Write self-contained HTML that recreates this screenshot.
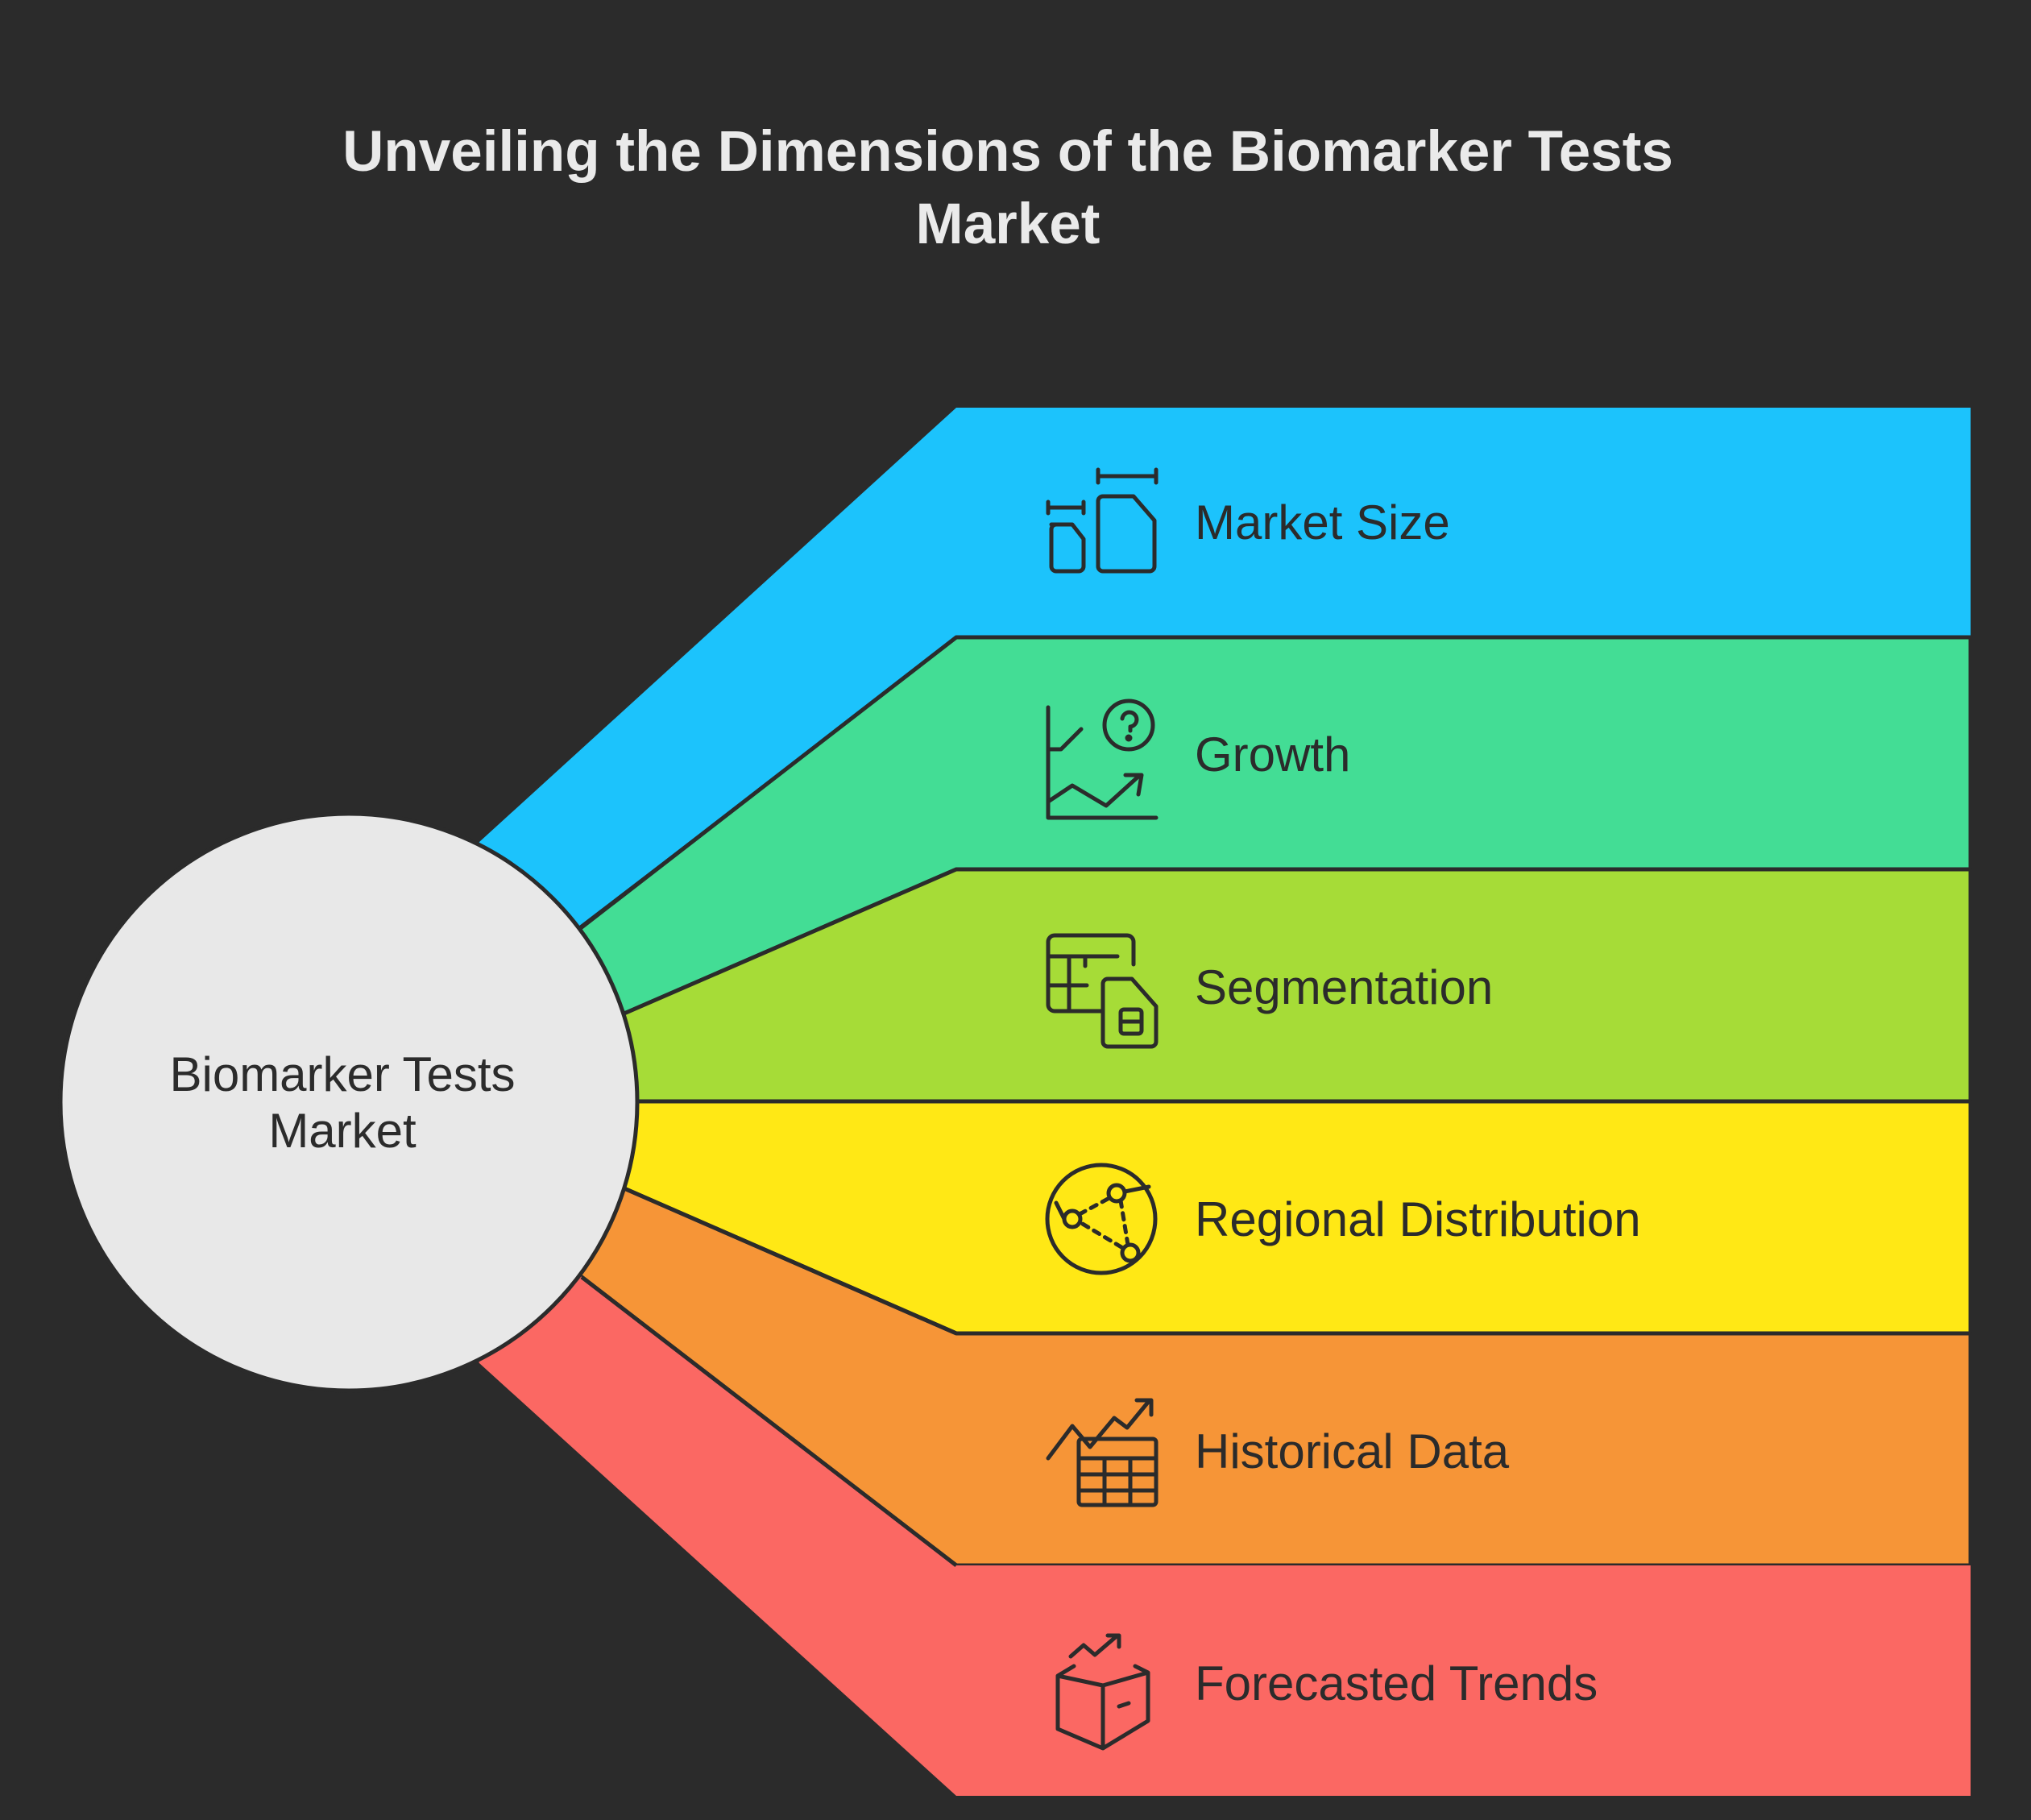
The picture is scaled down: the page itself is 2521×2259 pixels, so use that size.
<!DOCTYPE html>
<html><head><meta charset="utf-8"><style>
html,body{margin:0;padding:0;background:#2b2b2b;}
svg{display:block}
</style></head><body>
<svg width="2521" height="2259" viewBox="0 0 2521 2259" xmlns="http://www.w3.org/2000/svg">
<rect width="2521" height="2259" fill="#2b2b2b"/>
<text x="1251" y="212" font-family="Liberation Sans, sans-serif" font-weight="bold" font-size="71" fill="#eaeaea" text-anchor="middle">Unveiling the Dimensions of the Biomarker Tests</text>
<text x="1251" y="302" font-family="Liberation Sans, sans-serif" font-weight="bold" font-size="71" fill="#eaeaea" text-anchor="middle">Market</text>
<g stroke="#2b2b2b" stroke-width="5" stroke-linejoin="round">
<polygon points="433,1368 595,1045 1187,506 2446,506 2446,791 1187,791" fill="#1cc3fc" stroke="none"/>
<polygon points="433,1368 722,1151 1187,791 2446,791 2446,1079 1187,1079 777,1257" fill="#43dd95"/>
<polygon points="433,1368 777,1257 1187,1079 2446,1079 2446,1367 433,1367" fill="#a6dc37"/>
<polygon points="433,1367 2446,1367 2446,1655 1187,1655 777,1476" fill="#ffe815"/>
<polygon points="433,1368 777,1476 1187,1655 2446,1655 2446,1943 1187,1943 722,1585" fill="#f69537"/>
<polygon points="433,1368 722,1585 1187,1943 2446,1943 2446,2229 1187,2229 595,1692" fill="#fb6863" stroke="none"/>
<line x1="722" y1="1585" x2="1187" y2="1943"/>
<line x1="777" y1="1476" x2="1187" y2="1655"/>
</g>
<circle cx="433" cy="1368" r="358" fill="#e8e8e8" stroke="#2b2b2b" stroke-width="5"/>
<text font-family="Liberation Sans, sans-serif" font-size="60" fill="#2b2b2b" text-anchor="middle"><tspan x="425" y="1354">Biomarker Tests</tspan><tspan x="425" y="1424">Market</tspan></text>
<g font-family="Liberation Sans, sans-serif" font-size="60" fill="#2b2b2b">
<text x="1483" y="669">Market Size</text>
<text x="1483" y="957">Growth</text>
<text x="1483" y="1246">Segmentation</text>
<text x="1483" y="1534">Regional Distribution</text>
<text x="1483" y="1822">Historical Data</text>
<text x="1483" y="2110">Forecasted Trends</text>
</g>
<g fill="none" stroke="#2b2b2b" stroke-width="5" stroke-linecap="round" stroke-linejoin="round">
<g transform="translate(1299,583)">
<path d="M6,68 h26 l14,18 v34 a6,6 0 0 1 -6,6 h-28 a6,6 0 0 1 -6,-6 v-46 a6,6 0 0 1 6,-6z"/>
<path d="M70,33 h38 l26,30 v57 a6,6 0 0 1 -6,6 h-58 a6,6 0 0 1 -6,-6 v-81 a6,6 0 0 1 6,-6z"/>
<path d="M2,40 v14 M2,47 h44 M46,40 v14 M64,0 v16 M64,8 h72 M136,0 v16"/>
</g>
<g transform="translate(1299,870)">
<path d="M2,8 v137 h134"/>
<path d="M2,60 h16 l25,-25"/>
<path d="M2,125 l30,-20 l42,25 l42,-38"/>
<path d="M98,92 h20 l-4,24"/>
<circle cx="102" cy="30" r="30"/>
<path d="M94,22 a9,9 0 1 1 10,10 v5"/><circle cx="102" cy="46" r="2" fill="#2b2b2b"/>
</g>
<g transform="translate(1299,1155)">
<path d="M70,100 h-60 a8,8 0 0 1 -8,-8 v-78 a8,8 0 0 1 8,-8 h90 a8,8 0 0 1 8,8 v28"/>
<path d="M2,32 h86 M28,32 v68 M2,68 h48 M48,32 v12"/>
<path d="M76,60 h30 l30,34 v44 a6,6 0 0 1 -6,6 h-54 a6,6 0 0 1 -6,-6 v-72 a6,6 0 0 1 6,-6z"/>
<rect x="92" y="98" width="26" height="30" rx="4"/><path d="M92,113 h26"/>
</g>
<g transform="translate(1299,1443)">
<circle cx="68" cy="70" r="67"/>
<circle cx="32" cy="70" r="10"/><circle cx="87" cy="38" r="10"/><circle cx="104" cy="112" r="10"/>
<path d="M41,64 l37,-20 M92,47 l9,55 M93,105 l-50,-30" stroke-dasharray="8,8"/>
<path d="M22,70 l-10,-20 M97,36 l30,-6"/>
</g>
<g transform="translate(1299,1730)">
<path d="M2,80 l30,-40 l22,26 l30,-36 l16,12 l28,-34"/>
<path d="M112,8 h18 v18"/>
<rect x="40" y="56" width="96" height="82" rx="4"/>
<path d="M40,80 h96 M40,100 h96 M40,120 h96 M72,80 v58 M104,80 v58"/>
</g>
<g transform="translate(1299,2018)">
<path d="M30,38 l16,-14 l14,12 l28,-24"/>
<path d="M76,12 h14 v14"/>
<path d="M14,62 l56,12 l56,-16 v60 l-56,34 l-56,-24z M70,74 v78 M14,62 l20,-12 M126,58 l-16,-8"/>
<path d="M90,100 l12,-4"/>
</g>
</g>
</svg>
</body></html>
